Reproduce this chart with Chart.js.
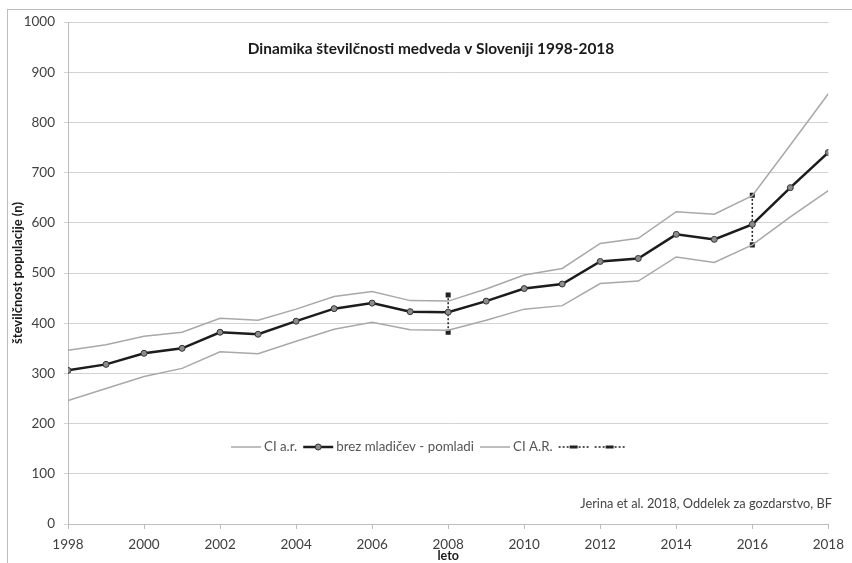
<!DOCTYPE html>
<html>
<head>
<meta charset="utf-8">
<script src="https://cdn.jsdelivr.net/npm/chart.js@4.4.1/dist/chart.umd.min.js"></script>
<style>
    html, body { margin: 0; padding: 0; background: #fff; }
    #wrap { position: relative; width: 852px; height: 563px; overflow: hidden; }
    #frame { position: absolute; left: 7px; top: 9px; width: 900px; height: 600px; border-left: 1px solid #bdbdbd; border-top: 1px solid #bdbdbd; }
    canvas { position: absolute; left: 0; top: 0; }
</style>
</head>
<body>
<div id="wrap">
    <div id="frame"></div>
    <canvas id="chart" width="852" height="563"></canvas>
</div>
<script>
    // Data
    const years = [1998, 1999, 2000, 2001, 2002, 2003, 2004, 2005, 2006, 2007, 2008,
                   2009, 2010, 2011, 2012, 2013, 2014, 2015, 2016, 2017, 2018];
    const brezMladicev = [306, 318, 340, 350, 382, 378, 404, 429, 440, 423, 422,
                          444, 469, 478, 523, 529, 577, 567, 597, 670, 740];
    const ciUpper = [346, 357, 374, 382, 410, 406, 428, 453, 463, 445, 444,
                     468, 496, 509, 559, 569, 622, 617, 654, 755, 857];
    const ciLower = [246, 270, 294, 310, 343, 339, 364, 388, 402, 387, 386,
                     406, 428, 435, 479, 484, 532, 521, 556, 612, 664];
    const bar2008 = { year: 2008, low: 382, high: 456 };
    const bar2016 = { year: 2016, low: 556, high: 655 };

    const titleText = 'Dinamika številčnosti medveda v Sloveniji 1998-2018';
    const sourceText = 'Jerina et al. 2018, Oddelek za gozdarstvo, BF';
    const legendLabels = ['CI a.r.', 'brez mladičev - pomladi', 'CI A.R.', '', ''];

    const FONT = 'Lato, "Open Sans", sans-serif';
    const grey = '#a8a8a8';

    const toPoints = vals => vals.map((v, i) => ({ x: years[i], y: v }));

    // Title, in-plot legend and source note
    const decorations = {
        id: 'decorations',
        afterDraw(chart) {
            const ctx = chart.ctx;
            ctx.save();
            ctx.textBaseline = 'middle';

            ctx.fillStyle = '#1a1a1a';
            ctx.font = `bold 15.4px ${FONT}`;
            ctx.textAlign = 'center';
            ctx.fillText(titleText, 431, 49);

            ctx.fillStyle = '#444';
            ctx.font = `12.8px ${FONT}`;
            ctx.textAlign = 'right';
            ctx.fillText(sourceText, 832, 504);

            // legend
            ctx.font = `13.3px ${FONT}`;
            ctx.textAlign = 'left';
            const y = 447;
            let x = 231;
            const symW = 30;
            chart.data.datasets.forEach((ds, i) => {
                ctx.strokeStyle = ds.borderColor;
                ctx.lineWidth = ds.borderWidth;
                ctx.setLineDash(ds.borderDash || []);
                ctx.beginPath();
                ctx.moveTo(x, y);
                ctx.lineTo(x + symW, y);
                ctx.stroke();
                ctx.setLineDash([]);
                if (ds.pointRadius > 0) {
                    ctx.fillStyle = ds.pointBackgroundColor;
                    ctx.strokeStyle = ds.pointBorderColor;
                    ctx.lineWidth = 1;
                    if (ds.pointStyle === 'rect') {
                        ctx.fillRect(x + symW / 2 - 4, y - 1.5, 8, 3);
                    } else {
                        ctx.beginPath();
                        ctx.arc(x + symW / 2, y, ds.pointRadius, 0, Math.PI * 2);
                        ctx.fill();
                        ctx.stroke();
                    }
                }
                x += symW + 3;
                const label = legendLabels[i];
                if (label) {
                    ctx.fillStyle = '#555';
                    ctx.fillText(label, x, y);
                    x += ctx.measureText(label).width + 6;
                } else {
                    x += 3;
                }
            });
            ctx.restore();
        }
    };

    new Chart(document.getElementById('chart'), {
        type: 'line',
        data: {
            datasets: [
                { label: legendLabels[0], data: toPoints(ciUpper), borderColor: grey, borderWidth: 1.5, pointRadius: 0 },
                { label: legendLabels[1], data: toPoints(brezMladicev), borderColor: '#1c1c1c', borderWidth: 2.5,
                  pointRadius: 3, pointStyle: 'circle', pointBackgroundColor: '#8c8c8c', pointBorderColor: '#333', pointBorderWidth: 1 },
                { label: legendLabels[2], data: toPoints(ciLower), borderColor: grey, borderWidth: 1.5, pointRadius: 0 },
                { label: legendLabels[3], data: [{ x: bar2008.year, y: bar2008.low }, { x: bar2008.year, y: bar2008.high }],
                  borderColor: '#222', borderWidth: 1.5, borderDash: [2, 2], pointRadius: 2.5, pointStyle: 'rect',
                  pointBackgroundColor: '#222', pointBorderColor: '#222' },
                { label: legendLabels[4], data: [{ x: bar2016.year, y: bar2016.low }, { x: bar2016.year, y: bar2016.high }],
                  borderColor: '#222', borderWidth: 1.5, borderDash: [2, 2], pointRadius: 2.5, pointStyle: 'rect',
                  pointBackgroundColor: '#222', pointBorderColor: '#222' }
            ]
        },
        options: {
            responsive: false,
            animation: false,
            layout: { padding: { top: 22, right: 11, left: 0, bottom: 0 } },
            plugins: { legend: { display: false }, tooltip: { enabled: false } },
            scales: {
                x: {
                    type: 'linear',
                    min: 1998, max: 2018,
                    afterFit: s => { s.height = 39; },
                    ticks: { stepSize: 2, padding: 8, color: '#404040', font: { family: FONT, size: 13.5 }, callback: v => String(v) },
                    grid: { drawOnChartArea: false, tickLength: 5, color: '#bdbdbd' },
                    border: { color: '#bdbdbd' },
                    title: { display: true, text: 'leto', color: '#1a1a1a', font: { family: FONT, size: 12.5, weight: 'bold' }, padding: { top: 0, bottom: 0 } }
                },
                y: {
                    min: 0, max: 1000,
                    afterFit: s => { s.width = 68; },
                    ticks: { stepSize: 100, padding: 9, color: '#404040', font: { family: FONT, size: 13.5 }, callback: v => String(v) },
                    grid: { color: '#d2d2d2', tickLength: 4 },
                    border: { color: '#bdbdbd' },
                    title: { display: true, text: 'številčnost populacije (n)', color: '#1a1a1a', font: { family: FONT, size: 13, weight: 'bold' }, padding: { top: 10, bottom: 0 } }
                }
            }
        },
        plugins: [decorations]
    });
</script>
</body>
</html>
